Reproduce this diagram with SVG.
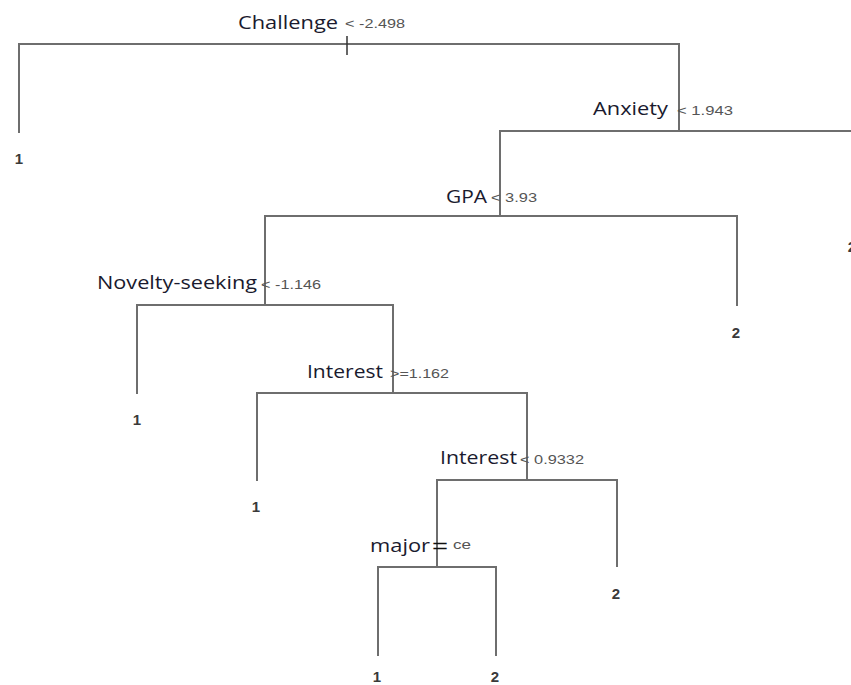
<svg xmlns="http://www.w3.org/2000/svg" width="851" height="685" viewBox="0 0 851 685">
<style>
.edge{fill:none;stroke:#6e6e6e;stroke-width:2;stroke-linecap:square}
.var{font-family:"Open Sans","Noto Sans",sans-serif;font-size:18px;fill:#1a1a2e}
.cond{font-family:"Liberation Sans",Arial,sans-serif;font-size:13px;fill:#555}
.leaf{font-family:"Liberation Sans",Arial,sans-serif;font-size:15px;font-weight:bold;fill:#3a3a3a;text-anchor:middle}
</style>
<rect width="851" height="685" fill="#fff"/>
<g id="connectors">
<path class="edge" d="M19,132 V44 H679 V131"/>
<path class="edge" d="M500,216 V131 H851"/>
<path class="edge" d="M265,305 V216 H737 V305"/>
<path class="edge" d="M137,393 V305 H393 V393"/>
<path class="edge" d="M257,480 V393 H527 V480"/>
<path class="edge" d="M437,567 V480 H617 V566"/>
<path class="edge" d="M378,655 V567 H496 V655"/>
<line x1="347" y1="36" x2="347" y2="55" stroke="#333" stroke-width="1.5"/>
</g>
<g id="n-challenge">
<text class="var" x="238" y="29" textLength="100" lengthAdjust="spacingAndGlyphs">Challenge</text>
<text class="cond" x="345" y="28" textLength="60" lengthAdjust="spacingAndGlyphs">&lt; -2.498</text>
</g>
<g id="n-anxiety">
<text class="var" x="593" y="115" textLength="75" lengthAdjust="spacingAndGlyphs">Anxiety</text>
<text class="cond" x="677" y="115" textLength="56" lengthAdjust="spacingAndGlyphs">&lt; 1.943</text>
</g>
<g id="n-gpa">
<text class="var" x="446" y="203" textLength="41" lengthAdjust="spacingAndGlyphs">GPA</text>
<text class="cond" x="491" y="202" textLength="46" lengthAdjust="spacingAndGlyphs">&lt; 3.93</text>
</g>
<g id="n-novelty">
<text class="var" x="97" y="289" textLength="160" lengthAdjust="spacingAndGlyphs">Novelty-seeking</text>
<text class="cond" x="261" y="289" textLength="60" lengthAdjust="spacingAndGlyphs">&lt; -1.146</text>
</g>
<g id="n-interest1">
<text class="var" x="307" y="378" textLength="76" lengthAdjust="spacingAndGlyphs">Interest</text>
<text class="cond" x="390" y="378" textLength="59" lengthAdjust="spacingAndGlyphs">&gt;=1.162</text>
</g>
<g id="n-interest2">
<text class="var" x="440" y="464" textLength="77" lengthAdjust="spacingAndGlyphs">Interest</text>
<text class="cond" x="520" y="464" textLength="64" lengthAdjust="spacingAndGlyphs">&lt; 0.9332</text>
</g>
<g id="n-major">
<text class="var" x="370" y="552" textLength="60" lengthAdjust="spacingAndGlyphs">major</text>
<text x="432" y="553" font-family="Liberation Sans,Arial,sans-serif" font-size="20" fill="#111" textLength="16" lengthAdjust="spacingAndGlyphs">=</text>
<text class="cond" x="453" y="549" font-size="11" textLength="18" lengthAdjust="spacingAndGlyphs">ce</text>
</g>
<g id="leaf-1a"><text class="leaf" x="19" y="164">1</text></g>
<g id="leaf-2a"><text class="leaf" x="852" y="252" fill="#8a6a3a">2</text></g>
<g id="leaf-2b"><text class="leaf" x="736" y="338">2</text></g>
<g id="leaf-1b"><text class="leaf" x="137" y="425">1</text></g>
<g id="leaf-1c"><text class="leaf" x="256" y="512">1</text></g>
<g id="leaf-2c"><text class="leaf" x="616" y="599">2</text></g>
<g id="leaf-1d"><text class="leaf" x="377" y="682">1</text></g>
<g id="leaf-2d"><text class="leaf" x="495" y="682">2</text></g>
</svg>
